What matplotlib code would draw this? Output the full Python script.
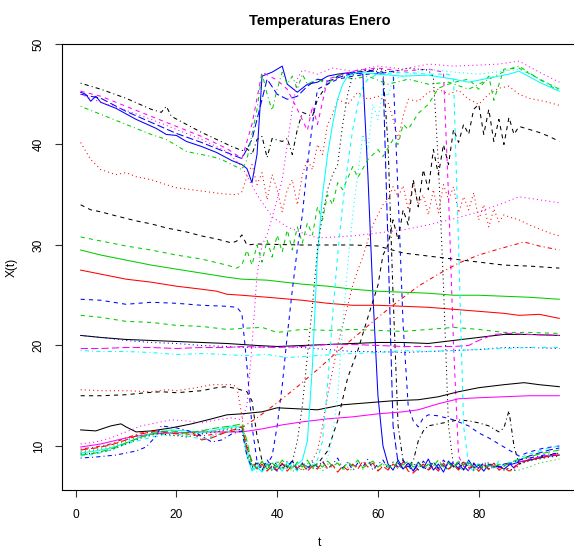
import matplotlib
matplotlib.use("Agg")
import matplotlib.pyplot as plt

# --- data (t, temperature) ---
blk_top = [(1,46.1),(5,45.5),(10,44.6),(15,43.5),(17,43.2),(18,43.8),(19,42.8),(22,42.0),(25,41.2),(28,40.5),
           (31,39.8),(33,39.4),(34,39.6),(35,39.0),(36,40.5),(37,40.8),(38,38.7),(39,40.6),(41,40.3),(42,40.6),
           (43,39.0),(44,41.5),(45,43.2),(46,43.0),(47,42.8),(48,44.5),(50,46.0),(52,46.8),(55,47.2),(58,47.4),
           (61,47.2),(62,40.0),(63,25.0),(64,12.0),(65,8.5),(66,8.0),(67,8.5),(68,10.5),(69,11.5),(70,12.0),
           (72,12.2),(74,12.4),(76,12.6),(78,12.5),(80,12.3),(82,12.0),(84,11.4),(85,11.8),(86,13.5),(87,10.0),
           (88,8.2),(90,8.6),(93,9.0),(96,9.3)]
blue_solid = [(1,45.2),(2,45.0),(3,44.3),(4,44.8),(5,44.2),(8,43.6),(12,42.5),(16,41.6),(18,41.0),(20,40.9),
              (22,40.3),(25,39.8),(28,39.2),(31,38.4),(33,38.0),(34,37.6),(35,36.2),(36,39.0),(37,46.8),(39,47.2),
              (41,47.8),(42,46.0),(44,45.2),(46,46.0),(48,46.2),(50,46.8),(52,47.0),(55,47.2),(57,47.0),(58,37.0),
              (59,25.0),(60,15.0),(61,10.0),(62,8.2),(63,7.6),(64,8.6),(65,7.7),(66,8.3),(67,7.5),(68,8.4),
              (69,7.8),(70,8.7),(71,7.6),(72,8.2),(73,7.4),(74,8.5),(75,7.9),(76,8.3),(77,7.6),(78,8.6),(79,7.8),
              (80,8.1),(81,7.5),(82,8.2),(83,7.9),(84,8.0),(85,7.7),(86,8.1),(88,8.4),(90,8.6),(92,8.8),(94,9.0),
              (96,9.1)]
blue_long = [(1,45.0),(5,44.6),(10,43.3),(15,42.2),(20,41.1),(25,40.2),(30,39.2),(33,38.6),(35,40.5),(37,44.5),
             (38,46.5),(40,45.0),(42,44.5),(44,44.8),(46,45.8),(48,46.5),(50,46.3),(53,46.8),(56,47.2),(59,47.3),
             (61,47.0),(62,30.0),(63,12.0),(64,8.3),(65,7.7),(66,8.0),(67,7.5),(68,8.2),(69,7.9),(70,7.6),(71,8.4),
             (72,7.8),(73,8.1),(74,7.6),(75,8.3),(76,7.7),(77,8.0),(78,7.5),(79,8.2),(80,7.8),(81,8.3),(82,7.7),
             (83,8.0),(84,7.9),(85,8.2),(86,8.3),(87,7.8),(88,8.6),(90,9.0),(92,9.3),(94,9.6),(96,9.8)]
mag_dash = [(1,45.3),(5,44.8),(10,43.8),(15,42.8),(20,41.8),(25,40.8),(30,39.6),(33,38.6),(35,42.0),(37,47.2),
            (40,46.4),(42,45.5),(44,43.5),(46,41.4),(47,43.8),(48,42.0),(50,46.5),(53,47.0),(56,47.4),(60,47.6),
            (65,47.3),(70,47.5),(73,47.2),(74,35.0),(75,20.0),(76,9.0),(77,8.0),(78,7.6),(79,8.3),(80,7.8),
            (81,8.2),(82,7.6),(83,8.0),(84,7.8),(85,8.1),(86,8.2),(87,7.9),(88,8.4),(90,8.7),(92,8.9),(94,9.1),
            (96,9.2)]
mag_dot_hi = [(1,45.0),(5,44.2),(10,43.4),(15,42.5),(20,41.5),(25,40.5),(30,39.3),(33,37.8),(36,35.0),(39,32.8),
              (42,31.8),(45,31.2),(48,30.7),(55,30.9),(60,31.2),(65,31.5),(70,32.0),(75,32.6),(80,33.3),(85,34.2),
              (88,34.8),(92,34.5),(96,34.2)]
grn_dotdash = [(1,43.8),(5,43.0),(10,42.0),(15,41.0),(18,40.5),(20,39.9),(22,39.3),(25,39.0),(27,38.8),(29,38.5),
               (31,38.0),(33,37.5),(34,38.5),(35,41.0),(36,43.5),(37,47.1),(38,45.0),(39,43.4),(40,45.5),(41,47.2),
               (42,46.0),(43,46.8),(44,45.5),(45,47.0),(46,46.0),(48,46.5),(50,46.0),(52,47.0),(55,46.5),(58,46.8),
               (62,46.0),(66,46.5),(70,46.0),(74,46.2),(78,45.5),(82,46.5),(86,47.5),(88,47.8),(92,46.5),(96,45.3)]
red_dot_hi = [(1,40.2),(3,38.5),(5,37.5),(8,37.0),(10,37.2),(12,36.8),(15,36.5),(18,36.0),(20,35.7),(23,35.5),
              (26,35.3),(29,35.1),(32,35.0),(33,35.3),(34,36.8),(35,38.0),(36,36.0),(37,37.2),(38,34.5),(39,37.0),
              (40,35.5),(41,33.3),(42,35.5),(43,36.5),(44,34.0),(45,37.0),(46,38.5),(47,37.5),(48,40.0),(49,39.0),
              (50,42.0),(51,43.0),(52,44.5),(54,44.0),(56,45.2),(58,44.5),(60,44.8),(62,44.2),(63,42.5),(64,40.5),
              (65,42.8),(66,44.5),(68,44.3),(70,45.2),(72,45.5),(74,45.0),(76,45.4),(78,44.5),(80,44.0),(82,45.0),
              (84,45.6),(86,45.8),(88,45.0),(90,44.6),(93,44.3),(96,43.9)]
blk_dash_30 = [(1,34.0),(3,33.5),(5,33.3),(8,32.9),(12,32.4),(15,32.1),(18,31.7),(22,31.3),(25,30.9),(28,30.6),
               (31,30.2),(32,30.4),(33,31.0),(34,30.0),(36,30.1),(45,30.0),(55,30.0),(60,29.9),(65,29.2),(70,28.9),
               (75,28.6),(80,28.3),(85,28.0),(90,27.9),(96,27.7)]
grn_dash_up = [(1,30.8),(5,30.4),(10,29.9),(15,29.5),(20,29.0),(25,28.6),(30,28.0),(32,27.7),(33,28.0),(34,29.5),
               (35,28.0),(36,30.0),(37,28.3),(38,30.5),(39,28.8),(40,31.0),(41,29.3),(42,31.5),(43,29.5),(44,31.8),
               (45,30.2),(46,32.2),(47,31.0),(48,33.8),(49,32.5),(50,35.0),(51,34.0),(52,36.2),(53,35.5),(55,37.8),
               (56,36.7),(58,38.5),(60,39.5),(61,38.8),(63,40.5),(64,40.0),(65,42.0),(66,41.5),(68,43.1),(70,44.0),
               (72,45.6),(74,46.0),(76,46.3),(78,46.5),(80,45.5),(82,46.8),(83,44.4),(85,47.5),(88,47.6),(91,46.8),
               (94,46.0),(96,45.5)]
grn_solid = [(1,29.5),(5,29.0),(10,28.5),(15,28.0),(20,27.6),(25,27.2),(30,26.8),(33,26.6),(38,26.5),(45,26.1),
             (50,25.9),(55,25.6),(60,25.4),(65,25.3),(70,25.2),(75,25.0),(80,25.0),(85,24.9),(90,24.8),(96,24.6)]
red_solid = [(1,27.5),(5,27.1),(10,26.6),(15,26.3),(20,25.9),(25,25.6),(28,25.4),(30,25.1),(33,25.0),(38,24.8),
             (45,24.5),(50,24.2),(55,24.0),(60,24.0),(65,23.9),(70,23.8),(75,23.6),(80,23.4),(85,23.2),(88,23.0),
             (92,23.1),(96,22.7)]
blue_dash = [(1,24.6),(5,24.5),(10,24.1),(15,24.3),(20,24.2),(25,24.0),(30,23.9),(32,23.8),(33,23.2),(34,18.0),
             (35,12.0),(36,8.5),(37,7.8),(38,8.2),(39,9.0),(40,12.0),(41,16.0),(42,21.0),(43,25.5),(44,29.6),
             (45,33.0),(46,38.0),(47,42.0),(48,45.5),(50,46.0),(52,46.5),(55,46.8),(58,47.0),(61,47.1),(63,47.3),
             (64,35.0),(65,22.0),(66,14.0),(67,12.5),(68,11.9),(69,12.8),(70,13.1),(72,13.0),(75,12.6),(78,12.0),
             (80,11.3),(82,10.8),(84,10.2),(86,9.6),(88,9.0),(90,9.4),(93,9.8),(96,10.0)]
grn_dash_21 = [(1,23.0),(5,22.8),(10,22.4),(15,22.3),(20,22.0),(25,21.9),(30,21.6),(33,21.7),(37,21.8),(40,21.3),
               (45,21.6),(50,21.5),(55,21.6),(60,21.5),(65,21.4),(70,21.6),(75,21.8),(80,21.6),(85,21.3),(90,21.3),
               (96,21.2)]
blk_solid_20 = [(1,21.0),(5,20.8),(10,20.6),(15,20.5),(20,20.4),(25,20.3),(30,20.2),(33,20.1),(36,20.0),(40,19.9),
                (45,20.0),(50,20.1),(55,20.2),(60,20.3),(65,20.3),(70,20.2),(75,20.5),(80,20.8),(85,21.1),(90,21.1),
                (96,21.0)]
blue_dot_20 = [(1,21.0),(5,20.8),(10,20.5),(15,20.3),(20,20.2),(25,20.0),(30,19.9),(33,19.8),(40,19.9),(45,19.8),
               (50,19.6),(55,19.4),(60,19.4),(65,19.3),(70,19.4),(75,19.5),(80,19.6),(85,19.8),(90,19.8),(96,19.7)]
mag_dash_20 = [(1,19.7),(5,19.7),(10,19.8),(15,19.8),(20,19.7),(25,19.8),(30,19.8),(33,19.9),(40,19.8),(45,19.9),
               (50,20.1),(55,20.1),(60,20.0),(65,19.9),(70,19.9),(75,19.9),(78,20.0),(80,20.5),(83,21.1),(86,21.2),
               (90,21.1),(96,21.0)]
cyan_dotdash_19 = [(1,19.5),(5,19.4),(10,19.4),(15,19.3),(20,19.1),(25,19.2),(30,19.1),(33,19.0),(38,19.1),(42,18.8),
                   (48,19.0),(55,19.2),(60,19.3),(65,19.5),(70,19.4),(75,19.5),(80,19.6),(85,19.7),(90,19.8),(96,19.8)]
red_dash_16 = [(1,15.6),(5,15.5),(10,15.5),(15,15.4),(18,15.6),(20,15.5),(24,15.8),(27,16.1),(31,16.1),(32,15.9),
               (33,13.0),(34,9.0),(35,8.2),(36,7.8),(37,8.4),(38,8.1),(39,7.6),(40,8.3),(41,7.8),(42,8.5),(43,7.9),
               (44,8.2),(45,7.5),(46,8.0),(47,8.6),(48,9.5),(49,12.0),(50,15.0),(51,17.5),(52,20.0),(53,22.0),
               (54,24.0),(55,26.0),(56,27.5),(57,28.8),(58,30.5),(59,32.0),(60,33.0),(61,34.0),(62,34.5),(63,35.8),
               (64,34.8),(65,35.9),(66,33.5),(67,36.2),(68,34.0),(69,35.0),(70,33.0),(71,35.5),(72,33.2),(73,36.0),
               (74,34.5),(75,35.8),(76,33.2),(77,34.8),(78,33.5),(79,35.2),(80,32.5),(81,34.0),(82,31.8),(83,33.6),
               (84,32.3),(85,33.0),(86,32.8),(88,32.5),(90,32.0),(92,31.6),(94,31.2),(96,30.9)]
blk_dash_15 = [(1,15.0),(5,15.0),(10,15.1),(14,15.3),(17,15.4),(20,15.3),(25,15.5),(28,15.8),(30,15.9),(32,15.7),
               (34,15.4),(35,14.5),(36,11.0),(37,8.5),(38,7.8),(39,8.4),(40,7.7),(41,8.2),(42,7.9),(43,8.5),(44,7.6),
               (45,8.3),(46,7.9),(47,8.0),(48,8.2),(50,9.5),(52,12.5),(54,16.8),(56,19.5),(58,22.8),(60,26.0),
               (61,29.0),(62,30.0),(63,32.5),(64,30.5),(65,33.5),(66,32.0),(67,36.5),(68,33.8),(69,37.5),(70,35.5),
               (71,39.5),(72,37.0),(73,40.0),(74,38.0),(75,41.5),(76,40.2),(77,42.0),(78,41.0),(79,43.5),(80,44.0),
               (81,41.0),(82,43.5),(83,40.3),(84,42.5),(85,40.0),(86,42.7),(87,41.0),(88,41.8),(90,41.5),(92,41.2),
               (94,40.8),(96,40.3)]
blk_solid_12 = [(1,11.6),(4,11.5),(7,12.0),(9,12.2),(10,11.9),(12,11.4),(15,11.5),(19,11.8),(23,12.2),(27,12.7),
                (30,13.1),(33,13.2),(37,13.4),(40,13.8),(44,13.7),(48,13.6),(53,14.1),(58,14.3),(63,14.5),(68,14.6),
                (72,14.9),(76,15.4),(80,15.8),(85,16.1),(89,16.3),(92,16.1),(96,15.9)]
mag_solid = [(1,9.9),(5,10.2),(10,10.8),(15,11.2),(20,11.3),(25,11.4),(29,11.4),(33,11.4),(37,11.7),(41,12.1),
             (45,12.4),(50,12.7),(55,12.9),(60,13.2),(65,13.4),(68,13.6),(72,14.2),(76,14.7),(80,14.8),(85,14.9),
             (90,15.0),(96,15.0)]
red_dotdash_diag = [(1,9.7),(4,9.9),(7,10.2),(10,10.8),(13,11.3),(16,11.4),(19,11.3),(22,11.2),(25,11.0),(28,11.2),
                    (32,11.5),(36,12.8),(40,14.3),(44,15.9),(48,17.6),(52,19.4),(56,21.1),(60,22.8),(64,24.4),
                    (68,25.9),(72,27.1),(76,28.2),(80,29.0),(84,29.6),(89,30.3),(92,29.9),(96,29.5)]
mag_dot_up = [(1,10.2),(4,10.4),(7,10.8),(10,11.4),(13,12.0),(16,12.3),(19,12.6),(22,12.5),(25,12.3),(28,12.6),
              (31,12.8),(33,12.6),(34,14.0),(35,20.0),(36,27.0),(37,30.0),(38,31.0),(40,34.5),(41,36.5),(42,40.0),
              (43,43.5),(44,46.5),(45,47.4),(48,47.0),(51,47.6),(55,47.3),(60,47.8),(65,47.5),(70,48.0),(75,47.8),
              (80,47.9),(84,48.0),(88,48.3),(92,47.2),(96,46.2)]
cyan_solid = [(1,9.3),(4,9.5),(7,9.8),(10,10.3),(13,10.9),(16,11.4),(19,11.6),(22,11.5),(25,11.3),(28,11.6),
              (31,11.9),(33,11.9),(34,9.0),(35,7.5),(36,7.9),(37,7.4),(38,8.3),(39,7.6),(40,8.1),(41,7.5),(42,8.4),
              (43,7.8),(44,8.2),(45,8.6),(46,10.5),(47,18.0),(48,29.0),(49,35.0),(50,39.0),(51,42.0),(52,44.5),
              (53,46.0),(54,46.8),(56,47.2),(60,47.0),(65,46.8),(70,46.9),(75,46.5),(78,46.2),(82,46.6),(86,47.0),
              (88,47.3),(92,46.2),(96,45.3)]
cyan_dash = [(1,9.0),(4,9.2),(7,9.6),(10,10.2),(13,10.6),(16,11.0),(19,11.3),(22,11.0),(25,10.7),(28,11.1),
             (31,11.5),(33,11.7),(34,9.5),(35,7.6),(36,8.2),(37,7.5),(38,8.0),(39,7.8),(40,8.5),(41,7.6),(42,8.3),
             (43,8.0),(44,7.5),(45,8.4),(46,7.8),(47,8.1),(48,8.6),(49,10.5),(50,16.0),(51,23.0),(52,29.0),(53,34.0),
             (54,38.0),(55,41.5),(56,44.0),(57,45.8),(58,46.5),(60,47.0),(65,47.2),(70,47.0),(74,47.0),(75,46.5),
             (76,30.0),(77,12.0),(78,8.0),(79,7.5),(80,8.4),(81,7.7),(82,8.2),(83,7.8),(84,8.5),(85,8.0),(86,8.4),
             (87,8.2),(88,8.8),(90,9.2),(92,9.5),(94,9.8),(96,10.0)]
cyan_dot = [(1,9.5),(4,9.7),(7,10.1),(10,10.6),(13,11.2),(16,10.9),(19,11.4),(22,11.2),(25,11.6),(28,11.8),
            (31,12.0),(33,12.2),(34,10.0),(35,8.0),(36,7.4),(37,8.1),(38,7.6),(39,8.3),(40,7.5),(41,8.0),(42,7.7),
            (43,8.4),(44,7.6),(45,8.2),(46,7.8),(47,8.5),(48,7.9),(49,8.3),(50,8.8),(51,11.0),(52,15.0),(53,22.0),
            (54,28.0),(55,33.0),(56,37.0),(57,41.0),(58,39.5),(59,44.0),(60,42.5),(61,45.5),(62,44.8),(63,46.5),
            (65,46.8),(70,47.5),(75,47.2),(80,47.0),(85,47.3),(88,47.5),(92,46.5),(96,45.6)]
blk_dot = [(1,9.2),(4,9.3),(7,9.6),(10,10.2),(13,10.8),(16,11.2),(19,11.1),(22,10.9),(25,11.2),(28,11.4),
           (31,11.7),(33,11.6),(34,10.0),(35,7.9),(36,8.4),(37,7.6),(38,8.2),(39,7.7),(40,8.5),(41,7.8),(42,8.1),
           (43,8.4),(44,10.5),(45,14.0),(46,19.0),(47,24.0),(48,29.6),(49,33.0),(50,35.5),(51,37.0),(52,38.0),
           (53,42.0),(54,45.0),(55,46.9),(57,47.3),(60,47.5),(63,47.2),(66,47.6),(70,47.4),(71,46.7),(72,38.0),
           (73,26.0),(74,12.0),(75,8.0),(76,8.5),(77,7.7),(78,8.3),(79,7.6),(80,8.2),(81,7.8),(82,8.4),(83,7.9),
           (84,8.1),(85,7.6),(86,7.8),(87,7.5),(88,8.2),(90,8.5),(92,8.7),(94,8.9),(96,9.0)]
blue_dotdash = [(1,8.8),(4,8.9),(8,9.1),(12,9.5),(14,9.9),(16,11.0),(17,12.0),(20,11.8),(24,11.3),(27,10.4),
                (29,10.6),(31,11.2),(33,11.5),(34,9.0),(35,7.8),(36,8.3),(37,7.6),(38,8.6),(39,7.9),(40,7.5),
                (41,8.2),(42,7.8),(43,8.6),(44,7.7),(45,8.3),(46,7.6),(47,8.4),(48,7.9),(49,8.5),(50,7.7),(51,8.2),
                (52,8.8),(53,7.8),(54,8.4),(55,7.6),(56,8.3),(57,7.9),(58,8.7),(59,7.6),(60,8.2),(61,8.6),(62,7.7),
                (63,8.4),(64,7.9),(65,8.6),(66,7.8),(67,8.3),(68,7.6),(69,8.5),(70,7.9),(71,8.4),(72,7.7),(73,8.6),
                (74,8.0),(75,8.4),(76,7.8),(77,8.5),(78,7.9),(79,8.3),(80,7.7),(81,8.4),(82,8.0),(83,8.3),(84,7.9),
                (85,8.0),(86,8.2),(88,8.6),(90,8.8),(92,9.0),(94,9.2),(96,9.3)]
grn_dot_low = [(1,9.4),(4,9.6),(7,9.9),(10,10.5),(13,11.0),(16,11.2),(19,11.0),(22,11.1),(25,11.4),(28,11.5),
               (31,11.8),(33,12.0),(34,9.5),(35,7.9),(36,8.5),(37,7.7),(38,8.1),(39,7.5),(40,8.0),(41,7.6),(42,8.2),
               (43,7.4),(44,7.9),(45,7.6),(46,8.3),(47,7.7),(48,8.0),(49,7.5),(50,8.2),(51,7.8),(52,8.4),(53,7.6),
               (54,7.9),(55,7.5),(56,8.1),(57,7.7),(58,8.3),(59,7.9),(60,7.6),(61,8.2),(62,7.8),(63,8.4),(64,7.7),
               (65,8.0),(66,7.6),(67,8.3),(68,7.9),(69,8.1),(70,7.7),(71,8.4),(72,7.8),(73,8.0),(74,7.6),(75,8.3),
               (76,7.9),(77,7.6),(78,8.1),(79,7.8),(80,7.5),(81,7.9),(82,7.7),(83,8.0),(84,7.6),(85,7.8),(86,7.5),
               (88,7.6),(90,7.9),(92,8.3),(94,8.5),(96,8.7)]
red_long_low = [(1,9.6),(4,9.8),(7,10.1),(10,10.6),(13,11.2),(16,11.5),(18,11.4),(20,11.2),(23,11.4),(25,10.6),
                (27,10.8),(30,11.4),(33,11.9),(34,9.8),(35,8.5),(36,7.7),(37,8.2),(38,7.5),(39,8.0),(40,7.6),
                (41,8.3),(42,7.5),(43,8.1),(44,7.8),(45,8.2),(46,7.5),(47,8.0),(48,7.7),(49,8.4),(50,7.8),(51,8.1),
                (52,7.4),(53,8.0),(54,7.6),(55,8.2),(56,7.7),(57,8.5),(58,7.9),(59,8.3),(60,7.5),(61,8.0),(62,7.6),
                (63,8.2),(64,7.8),(65,8.4),(66,7.5),(67,7.3),(68,7.8),(69,8.2),(70,7.6),(71,8.0),(72,7.5),(73,8.3),
                (74,7.7),(75,8.1),(76,7.6),(77,8.4),(78,7.8),(79,8.0),(80,7.5),(81,8.1),(82,7.7),(83,8.3),(84,7.6),
                (85,7.9),(86,7.5),(87,7.8),(88,8.3),(90,8.6),(92,8.8),(94,9.0),(96,9.1)]
grn_long_low = [(1,9.1),(4,9.3),(7,9.7),(10,10.3),(13,10.9),(16,11.3),(19,11.5),(22,11.3),(25,11.5),(28,11.8),
                (31,12.0),(33,12.2),(34,10.5),(35,8.2),(36,7.8),(37,8.5),(38,7.7),(39,8.3),(40,7.9),(41,8.6),
                (42,8.0),(43,7.7),(44,8.4),(45,7.9),(46,8.6),(47,7.8),(48,8.3),(49,7.9),(50,8.5),(51,8.0),(52,8.3),
                (53,7.7),(54,8.4),(55,8.0),(56,8.6),(57,7.8),(58,8.2),(59,8.5),(60,7.9),(61,8.3),(62,8.0),(63,7.8),
                (64,8.4),(65,8.1),(66,8.5),(67,7.9),(68,8.3),(69,7.8),(70,8.2),(71,8.0),(72,8.6),(73,7.9),(74,8.3),
                (75,7.8),(76,8.5),(77,8.1),(78,8.4),(79,7.9),(80,8.2),(81,7.7),(82,8.1),(83,7.9),(84,8.2),(85,8.0),
                (86,8.3),(88,8.7),(90,8.9),(92,9.2),(94,9.4),(96,9.6)]

series = [blk_top, blue_solid, blue_long, mag_dash, mag_dot_hi, grn_dotdash, red_dot_hi, blk_dash_30,
          grn_dash_up, grn_solid, red_solid, blue_dash, grn_dash_21, blk_solid_20, blue_dot_20, mag_dash_20,
          cyan_dotdash_19, red_dash_16, blk_dash_15, blk_solid_12, mag_solid, red_dotdash_diag, mag_dot_up,
          cyan_solid, cyan_dash, cyan_dot, blk_dot, blue_dotdash, grn_dot_low, red_long_low, grn_long_low]

# R matplot palette and line types
col = {'k': '#000000', 'r': '#FF0000', 'g': '#00CD00', 'b': '#0000FF', 'c': '#00FFFF', 'm': '#FF00FF'}
lty = {'solid': '-', 'dashed': (0, (4, 4)), 'dotted': (0, (1, 3)),
       'dotdash': (0, (1, 3, 4, 3)), 'longdash': (0, (7, 3))}
styles = [('k', 'dotdash'), ('b', 'solid'), ('b', 'longdash'), ('m', 'dashed'), ('m', 'dotted'),
          ('g', 'dotdash'), ('r', 'dotted'), ('k', 'dashed'), ('g', 'dashed'), ('g', 'solid'), ('r', 'solid'),
          ('b', 'dashed'), ('g', 'dashed'), ('k', 'solid'), ('b', 'dotted'), ('m', 'longdash'),
          ('c', 'dotdash'), ('r', 'dotted'), ('k', 'dashed'), ('k', 'solid'), ('m', 'solid'), ('r', 'dotdash'),
          ('m', 'dotted'), ('c', 'solid'), ('c', 'dashed'), ('c', 'dotted'), ('k', 'dotted'), ('b', 'dotdash'),
          ('g', 'dotted'), ('r', 'longdash'), ('g', 'longdash')]

plt.rcParams['font.family'] = ['Liberation Sans', 'DejaVu Sans']

fig = plt.figure(figsize=(5.74, 5.5), dpi=100)
ax = fig.add_axes([61.5 / 574, 1 - 490 / 550, 517 / 574, 446 / 550])

for s, (c, l) in zip(series, styles):
    t, v = zip(*s)
    ax.plot(t, v, color=col[c], linestyle=lty[l], lw=0.75)

ax.set_xlim(-2.8, 99.8)
ax.set_ylim(5.62, 50.0)
ax.set_xticks([0, 20, 40, 60, 80])
ax.set_yticks([10, 20, 30, 40, 50])
ax.tick_params(axis='both', direction='out', length=5, width=0.8, labelsize=8.6, color='#333333')
ax.tick_params(axis='x', pad=9)
ax.tick_params(axis='y', pad=7)
for lab in ax.get_yticklabels():
    lab.set_rotation(90)
    lab.set_va('center')
for sp in ax.spines.values():
    sp.set_linewidth(0.8)

ax.set_title('Temperaturas Enero', fontsize=10.5, fontweight='bold', pad=14)
ax.set_xlabel('t', fontsize=8.6, labelpad=11)
ax.set_ylabel('X(t)', fontsize=8.6, labelpad=11)

fig.savefig('out.png', dpi=100)
